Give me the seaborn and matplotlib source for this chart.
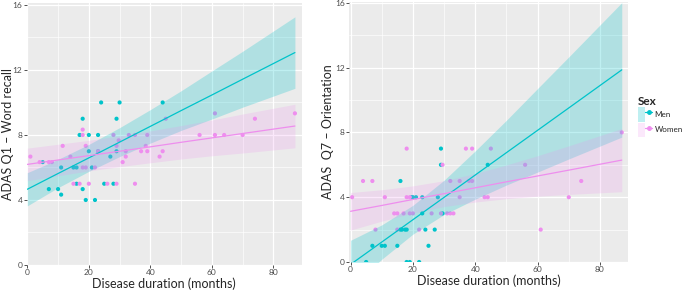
import numpy as np
import pandas as pd
import seaborn as sns
import matplotlib.pyplot as plt
from matplotlib.lines import Line2D
from matplotlib.patches import Patch
from matplotlib.legend_handler import HandlerTuple
from matplotlib.ticker import MultipleLocator

# ADAS Q1 - word recall (left panel)
men_dur_q1 = [5, 7, 10, 11, 11, 15, 16, 16, 17, 18, 18, 19, 20, 20, 21, 22, 23, 23, 24, 25, 27, 28, 29, 29, 30, 44]
men_q1 = [6.33, 4.67, 4.67, 6, 4.33, 6, 6, 5, 8, 9, 4.67, 4, 8, 7, 6, 4, 8, 7, 10, 5, 6.67, 5, 9, 7, 10, 10]
women_dur_q1 = [1, 4, 7, 8, 11.5, 14, 15, 17, 18, 18, 18, 19, 19, 20, 22, 23, 26, 28, 29, 29, 29.7, 31, 32, 32, 33,
                35, 35, 37, 38.5, 39, 39, 43, 44, 45, 56, 61, 61, 64, 70, 74, 87]
women_q1 = [6.67, 6.33, 6.33, 6.33, 7.33, 6.67, 5, 5, 8.33, 8, 6, 7.33, 6, 5, 6, 7, 5, 8, 7.33, 5, 7.67, 6.33, 6.67, 7, 8,
            8, 5, 7, 7.33, 8, 7, 6.67, 7, 9, 8, 9.33, 8, 8, 8, 9, 9.33]

# ADAS Q7 - orientation (right panel)
men_dur_q7 = [5, 7, 10, 11, 15, 16, 16, 16.5, 17.5, 18, 18, 19, 19.5, 20, 21, 22, 23, 23, 24, 25, 27, 28, 29, 29, 29.5, 44]
men_q7 = [0, 1, 1, 1, 1, 5, 2, 2, 2, 2, 0, 0, 4, 4, 4, 0, 4, 3, 2, 1, 2, 4, 7, 6, 3, 6]
women_dur_q7 = [0.5, 4, 7, 8, 11, 14, 15, 15, 17, 18, 18, 19, 19, 20, 22, 26, 29, 29.5, 31, 32, 32, 33, 35, 35, 37,
                38, 39, 39, 43, 44, 45, 56, 61, 70, 74, 87]
women_q7 = [4, 5, 5, 2, 4, 3, 2, 3, 3, 7, 4, 4, 3, 3, 2, 3, 3, 6, 3, 3, 5, 3, 5, 4, 7, 5, 5, 7, 4, 4, 7, 6, 2, 4, 5, 8]

# fitted lines and 95% bands
fit_x = [0, 10, 20, 30, 40, 50, 60, 70, 87]
men_q1_fit = [4.66, 5.63, 6.59, 7.56, 8.53, 9.5, 10.46, 11.43, 13.07]
men_q1_lo = [3.64, 4.76, 5.76, 6.67, 7.5, 8.28, 8.98, 9.71, 10.87]
men_q1_hi = [5.68, 6.5, 7.42, 8.45, 9.56, 10.72, 11.94, 13.15, 15.27]
women_q1_fit = [6.19, 6.46, 6.73, 7.0, 7.27, 7.55, 7.82, 8.09, 8.55]
women_q1_lo = [5.19, 5.49, 5.79, 6.05, 6.29, 6.52, 6.72, 6.89, 7.21]
women_q1_hi = [7.19, 7.43, 7.67, 7.95, 8.25, 8.58, 8.92, 9.29, 9.89]
men_q7_fit = [-0.15, 1.23, 2.61, 3.99, 5.37, 6.75, 8.13, 9.51, 11.86]
men_q7_lo = [-1.64, 0.17, 1.72, 2.93, 3.88, 4.75, 5.55, 6.36, 7.71]
men_q7_hi = [1.34, 2.29, 3.5, 5.05, 6.86, 8.75, 10.71, 12.66, 16.01]
women_q7_fit = [3.13, 3.49, 3.86, 4.22, 4.58, 4.95, 5.31, 5.67, 6.29]
women_q7_lo = [1.97, 2.52, 3.02, 3.42, 3.7, 3.91, 4.06, 4.17, 4.34]
women_q7_hi = [4.29, 4.46, 4.7, 5.02, 5.46, 5.99, 6.56, 7.17, 8.24]

sexes = ["Men", "Women"]
colors = {"Men": "#00C3CA", "Women": "#EE8EEE"}
band_alpha = {"Men": 0.25, "Women": 0.2}

q1 = pd.concat([pd.DataFrame({"dur": men_dur_q1, "score": men_q1, "sex": "Men"}),
                pd.DataFrame({"dur": women_dur_q1, "score": women_q1, "sex": "Women"})])
q7 = pd.concat([pd.DataFrame({"dur": men_dur_q7, "score": men_q7, "sex": "Men"}),
                pd.DataFrame({"dur": women_dur_q7, "score": women_q7, "sex": "Women"})])
fits_q1 = {"Men": (men_q1_fit, men_q1_lo, men_q1_hi), "Women": (women_q1_fit, women_q1_lo, women_q1_hi)}
fits_q7 = {"Men": (men_q7_fit, men_q7_lo, men_q7_hi), "Women": (women_q7_fit, women_q7_lo, women_q7_hi)}

sns.set_theme(style="darkgrid", rc={"axes.facecolor": "#EBEBEB", "grid.color": "white",
                                    "grid.linewidth": 0.9})
plt.rcParams["font.family"] = ["Lato", "DejaVu Sans"]

fig = plt.figure(figsize=(6.85, 2.9), dpi=100)
ax1 = fig.add_axes([26.7 / 685, 25 / 290, 275.3 / 685, 262 / 290])
ax2 = fig.add_axes([349 / 685, 28 / 290, 279 / 685, 260 / 290])


def panel(ax, df, fits, ylabel, xlim, ylim, ylab_x):
    sns.scatterplot(data=df, x="dur", y="score", hue="sex", palette=colors, ax=ax,
                    s=9, linewidth=0, legend=False, zorder=2)
    for s in sexes:
        fit, lo, hi = fits[s]
        ax.fill_between(fit_x, lo, hi, color=colors[s], alpha=band_alpha[s], lw=0, zorder=3)
        sns.lineplot(x=fit_x, y=fit, color=colors[s], lw=0.9, ax=ax, zorder=4)
    ax.set_xlim(*xlim)
    ax.set_ylim(*ylim)
    ax.xaxis.set_major_locator(MultipleLocator(20))
    ax.xaxis.set_minor_locator(MultipleLocator(10))
    ax.yaxis.set_major_locator(MultipleLocator(4))
    ax.yaxis.set_minor_locator(MultipleLocator(2))
    ax.grid(which="minor", color="white", lw=0.45)
    ax.tick_params(which="major", length=2.2, width=0.6, color="#333333", pad=1,
                   labelsize=6, labelcolor="#4D4D4D", bottom=True, left=True)
    ax.tick_params(which="minor", length=0)
    for sp in ax.spines.values():
        sp.set_visible(False)
    ax.set_xlabel("Disease duration (months)", fontsize=9, labelpad=1)
    ax.set_ylabel(ylabel, fontsize=9)
    ax.yaxis.set_label_coords(ylab_x, 0.5)


panel(ax1, q1, fits_q1, "ADAS Q1 – Word recall", (-0.2, 89.3), (0, 16.12), -0.047)
panel(ax2, q7, fits_q7, "ADAS  Q7 – Orientation", (-0.5, 89), (0, 16.05), -0.054)

handles = []
for s in sexes:
    handles.append((Patch(facecolor=colors[s], alpha=band_alpha[s], edgecolor="none"),
                    Line2D([], [], color=colors[s], lw=0.9, marker="o", markersize=2.5)))
leg = fig.legend(handles, sexes, handler_map={tuple: HandlerTuple(ndivide=None)},
                 loc="upper left", bbox_to_anchor=(638 / 685, 1 - 96 / 290), frameon=False,
                 title="Sex", fontsize=5.8, handlelength=1.75, handleheight=2.45,
                 handletextpad=0.3, labelspacing=0.05, borderaxespad=0, borderpad=0)
leg.get_title().set_fontweight("bold")
leg.get_title().set_fontsize(8.5)
leg._legend_box.align = "left"

fig.savefig("out.png", dpi=100)
